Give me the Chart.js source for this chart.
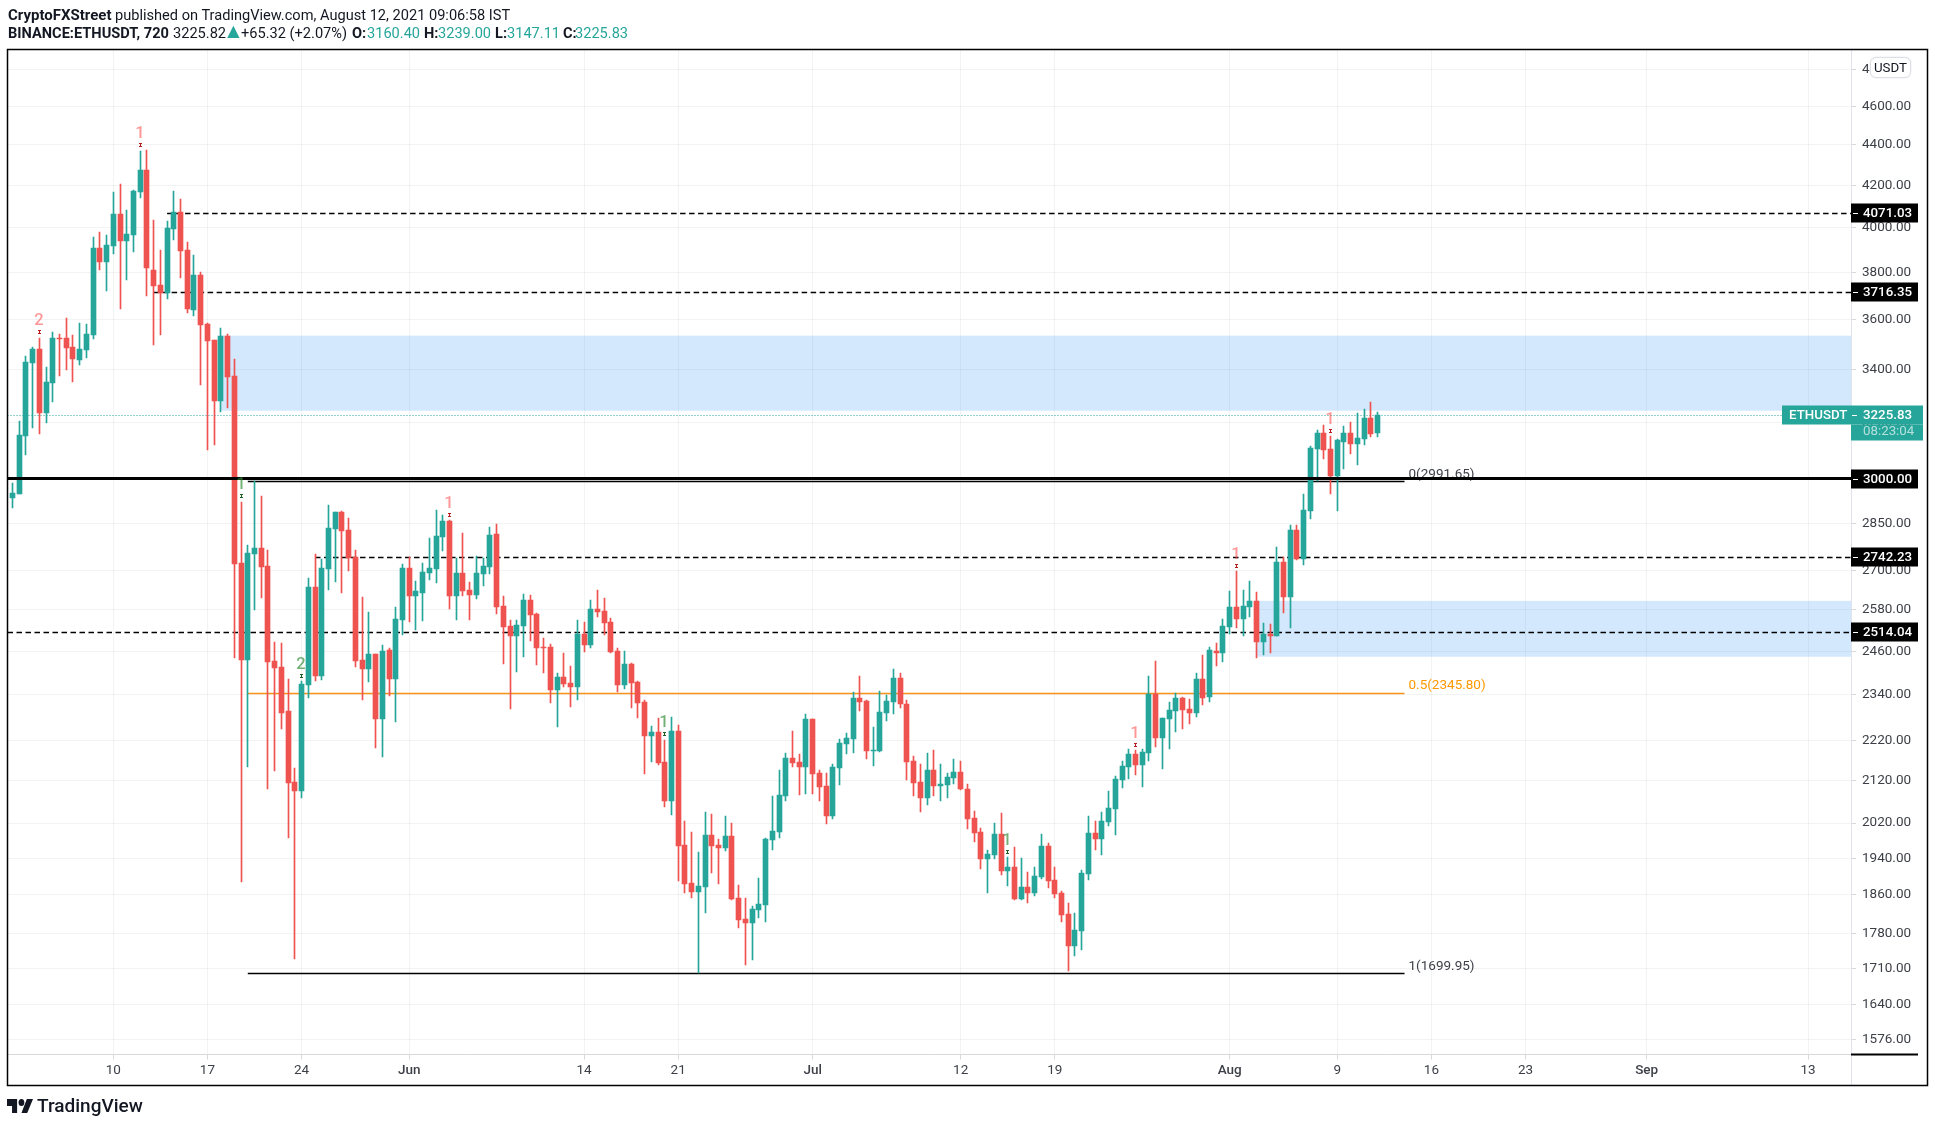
<!DOCTYPE html>
<html><head><meta charset="utf-8"><title>ETHUSDT</title>
<script src="https://cdn.jsdelivr.net/npm/chart.js@4"></script>
<style>
html,body{margin:0;padding:0;background:#fff;overflow:hidden}
#wrap{position:relative;width:1935px;height:1127px;font-family:Roboto,Arial,sans-serif;color:#131722}
canvas{position:absolute;left:0;top:0}
.t{position:absolute;white-space:nowrap;font-size:14.6px;line-height:18px}
.b{font-weight:700}.g{color:#26a69a}
#usdt{position:absolute;left:1870px;top:57px;width:39px;height:19px;border:1px solid #dcdfe6;border-radius:6px;background:#fff;text-align:center;font-size:13.3px;line-height:19px;color:#131722;box-shadow:0 0 2px #e4e4e4}
#logo{position:absolute;left:7px;top:1099px}
#lt{position:absolute;left:37px;top:1094px;font-size:19px;line-height:24px;font-weight:500;color:#131722}
</style></head><body><div id="wrap">
<canvas id="c" width="1935" height="1127"></canvas>
<span class="t b" style="left:8px;top:6px;font-size:15px">CryptoFXStreet</span>
<span class="t" style="left:115px;top:6px">published on TradingView.com, August 12, 2021 09:06:58 IST</span>
<span class="t b" style="left:8px;top:24px">BINANCE:ETHUSDT, 720</span>
<span class="t" style="left:173px;top:24px">3225.82</span>
<span class="t g" style="left:223px;top:22px;font-size:21px">▲</span>
<span class="t" style="left:241px;top:24px">+65.32 (+2.07%)</span>
<span class="t b" style="left:352px;top:24px">O:</span><span class="t g" style="left:367px;top:24px">3160.40</span>
<span class="t b" style="left:424px;top:24px">H:</span><span class="t g" style="left:438px;top:24px">3239.00</span>
<span class="t b" style="left:495px;top:24px">L:</span><span class="t g" style="left:507px;top:24px">3147.11</span>
<span class="t b" style="left:563px;top:24px">C:</span><span class="t g" style="left:575px;top:24px">3225.83</span>
<div id="usdt">USDT</div>
<svg id="logo" width="26" height="14" viewBox="0 6 36 16" preserveAspectRatio="none"><path fill="#131722" d="M14 6H0v8h7v8h7V6Zm14 16h-8l7.5-16H36l-8 16z"/><circle fill="#131722" cx="20" cy="10" r="4"/></svg>
<div id="lt">TradingView</div>
</div>
<script>
// G = close above open, R = close below open
const direction =
 "GGGGRGGRRR"+"GGGRGGRGGG"+"RRRGGRRGRR"+"RGRRRGGRRR"+"RRRGGRGGGR"+"RRRGRGRGGR"+"GGGGGRGRRG"+"GGRRRGGRRR"+"RGRRGRGRRR"+"RGRRRGRRGR"+
 "RRGGRRGRRR"+"GGGGGGRRGR"+"RRGGGGRRGG"+"GGRRRRGRGG"+"GRRRRGGRGR"+"GRGGRRRRGG"+"GRGGGGGRGG"+"RGGGRRGRGR"+"GGRGGRGRGR"+"GRGGGRRGGR"+"GGRG";
const high = [
2984,3206,3453,3490,3527,3411,3551,3543,3609,3539,3588,3584,3960,3983,3970,4171,4209,4085,4180,4372,4377,4039,3902,4034,4175,
4137,3938,3879,3804,3588,3519,3567,3543,3443,2921,2780,2992,2941,2764,2487,2484,2384,2152,2378,2677,2752,2736,2911,2888,2891,
2868,2764,2619,2574,2453,2479,2470,2589,2720,2742,2668,2723,2803,2894,2878,2861,2739,2819,2665,2745,2739,2838,2848,2622,2551,
2551,2628,2625,2571,2499,2481,2400,2456,2420,2551,2545,2610,2640,2616,2557,2470,2462,2428,2378,2327,2258,2279,2222,2282,2261,
2025,2000,1954,2046,2041,1984,2037,2020,1881,1854,1837,1897,1986,2084,2147,2189,2245,2187,2290,2277,2147,2140,2162,2225,2240,
2348,2392,2327,2256,2351,2340,2411,2400,2327,2182,2162,2189,2197,2162,2140,2174,2169,2113,2048,2009,1959,2020,2044,1943,1965,
1941,1910,1921,1995,1974,1921,1869,1843,1822,1914,2037,2025,2046,2096,2132,2169,2200,2197,2200,2392,2434,2279,2322,2346,2335,
2330,2400,2450,2473,2484,2554,2637,2699,2640,2668,2634,2542,2539,2774,2742,2845,2845,2948,3115,3173,3191,3151,3140,3188,3202,
3236,3250,3277,3239];
const bodyTop = [
2951,3155,3431,3482,3482,3353,3527,3527,3527,3490,3482,3543,3911,3911,3924,4066,4066,3974,4175,4277,4277,3813,3748,4002,4076,
4076,3902,3791,3791,3584,3519,3535,3535,3376,2723,2755,2771,2771,2714,2434,2417,2298,2118,2370,2649,2649,2708,2835,2888,2888,
2829,2742,2436,2453,2453,2462,2464,2554,2708,2708,2637,2695,2708,2809,2858,2858,2692,2692,2640,2692,2714,2812,2816,2592,2533,
2536,2610,2610,2568,2473,2473,2389,2389,2373,2510,2510,2583,2583,2577,2545,2462,2425,2425,2376,2322,2243,2243,2167,2245,2245,
1970,1886,1879,1993,1993,1970,1990,1990,1854,1809,1830,1841,1984,2002,2086,2177,2177,2167,2277,2277,2140,2108,2155,2215,2228,
2332,2332,2324,2197,2295,2324,2386,2386,2316,2169,2118,2147,2147,2113,2130,2142,2142,2101,2032,2000,1950,1995,1995,1921,1921,
1877,1877,1901,1968,1968,1892,1864,1820,1787,1908,1997,1997,2025,2055,2125,2157,2187,2187,2192,2343,2343,2279,2300,2332,2332,
2303,2384,2384,2464,2462,2533,2589,2589,2592,2607,2607,2510,2510,2727,2727,2829,2829,2894,3108,3162,3162,3104,3137,3162,3162,
3144,3217,3217,3225.83];
const bodyBottom = [
2935,2948,3151,3427,3236,3236,3349,3523,3486,3443,3439,3478,3539,3848,3848,3920,3942,3942,3970,4171,3822,3744,3714,3714,3997,
3897,3646,3642,3580,3514,3280,3280,3372,2720,2436,2436,2752,2711,2431,2414,2292,2115,2096,2096,2367,2392,2392,2705,2832,2825,
2739,2434,2411,2411,2277,2277,2384,2384,2551,2622,2622,2631,2692,2705,2806,2622,2622,2637,2625,2625,2689,2711,2589,2530,2504,
2504,2533,2566,2470,2470,2354,2354,2370,2362,2362,2479,2479,2574,2542,2459,2367,2367,2373,2319,2233,2233,2164,2072,2072,1968,
1884,1866,1866,1877,1968,1963,1963,1851,1807,1801,1801,1828,1839,1981,2000,2084,2164,2155,2155,2137,2106,2037,2037,2152,2212,
2225,2322,2195,2195,2195,2292,2322,2316,2167,2115,2079,2079,2108,2108,2110,2127,2101,2030,1997,1938,1938,1947,1912,1912,1851,
1851,1864,1864,1899,1890,1862,1818,1754,1754,1785,1905,1984,1984,2023,2053,2123,2155,2159,2159,2189,2228,2228,2277,2298,2300,
2292,2292,2332,2335,2456,2456,2530,2554,2554,2589,2487,2487,2504,2504,2619,2619,2736,2736,2891,3104,3101,3010,3010,3130,3122,
3122,3140,3158,3160.40];
const low = [
2901,2948,3083,3180,3158,3199,3277,3376,3399,3353,3419,3447,3523,3813,3722,3884,3646,3770,3893,4142,3701,3498,3539,3688,3947,
3778,3629,3617,3341,3101,3119,3239,3254,2442,1888,2155,2580,2616,2101,2145,2251,1986,1728,2079,2332,2378,2381,2640,2665,2631,
2699,2417,2327,2376,2202,2179,2338,2269,2507,2545,2522,2548,2671,2662,2761,2583,2551,2622,2551,2613,2652,2689,2568,2425,2303,
2403,2445,2490,2422,2400,2319,2256,2362,2308,2327,2459,2470,2560,2507,2456,2348,2356,2306,2279,2137,2167,2159,2058,2039,1890,
1864,1854,1701,1822,1908,1884,1956,1849,1791,1716,1726,1811,1803,1959,1986,2072,2155,2086,2089,2089,2072,2018,2030,2110,2187,
2189,2298,2174,2157,2192,2271,2290,2306,2123,2084,2046,2063,2084,2072,2079,2113,2098,2006,1977,1916,1864,1938,1903,1879,1849,
1849,1843,1858,1894,1875,1854,1803,1704,1734,1746,1892,1959,1947,2013,1993,2103,2125,2135,2106,2169,2205,2150,2200,2243,2251,
2264,2282,2314,2322,2420,2431,2510,2528,2504,2560,2442,2450,2456,2504,2571,2528,2733,2717,2865,2992,3069,2948,2891,3034,3087,
3048,3119,3148,3147.11];

const priceTicks = [4800,4600,4400,4200,4000,3800,3600,3400,3200,3000,2850,2700,2580,2460,2340,2220,2120,2020,1940,1860,1780,1710,1640,1576];
const timeTickIndex = [15,29,43,59,85,99,119,141,155,181,197,211,225,243,267];
const timeTickLabels = ["10","17","24","Jun","14","21","Jul","12","19","Aug","9","16","23","Sep","13"];
const monthLabels = ["Jun","Jul","Aug","Sep"];

const dashedLevels = [4071.03,3716.35,2742.23,2514.04];
const dashedStartIndex = [23,21,45,-0.73];
const boldLevel = 3000;
const fibLevels = [2991.65,2345.80,1699.95];
const fibLabels = ["0(2991.65)","0.5(2345.80)","1(1699.95)"];
const fibColors = ["#000","#f7931a","#000"];
const fibTextColors = ["#3c3f47","#ff9800","#3c3f47"];
const fibStartIndex = 35, fibEndIndex = 207;
const lastPrice = 3225.83;

const zoneTop = [3535,2607], zoneBottom = [3243,2445], zoneStartIndex = [31,185];

const seqIndex = [4,19,34,43,65,97,148,167,182,196];
const seqPrice = [3548,4398,2941,2392,2878,2238,1954,2210,2714,3169];
const seqText  = ["2","1","1","2","1","1","1","1","1","1"];
const seqSide  = ["R","R","G","G","R","G","G","R","R","R"];

const priceBadges = [4071.03,3716.35,3000,2742.23,2514.04];

const RED="#ef5350", GREEN="#26a69a";
const idx = high.map((_,i)=>i);
const colors = idx.map(i=>direction[i]==="G"?GREEN:RED);
const open  = idx.map(i=>direction[i]==="G"?bodyBottom[i]:bodyTop[i]);
const close = idx.map(i=>direction[i]==="G"?bodyTop[i]:bodyBottom[i]);
const X_MIN=-0.7286, X_MAX=273.39, Y_MIN=1548.7, Y_MAX=4909.6;
const seg=(p,a,b)=>[{x:a,y:p},{x:b,y:p}];
const lineDs=(data,color,width,dash,order)=>({type:"line",data,borderColor:color,borderWidth:width,borderDash:dash,pointRadius:0,fill:false,tension:0,order,clip:true,borderCapStyle:"butt"});
const FONT="Roboto, Arial, sans-serif";

const snap={id:"snap",afterDatasetsUpdate(chart){
  chart.data.datasets.forEach((d,k)=>{
    const pts=chart.getDatasetMeta(k).data;
    if(d.type==="bar"){
      pts.forEach(el=>{
        el.x=Math.floor(el.x)+0.5;
        el.y=Math.round(el.y); el.base=Math.round(el.base);
        if(el.base===el.y) el.base=el.y+1;
      });
    } else {
      pts.forEach(el=>{ el.y=(d.borderWidth>=3?Math.floor(el.y):Math.round(el.y))+0.5; });
    }
  });
}};
const under={id:"under",beforeDatasetsDraw(chart){
  const {ctx,chartArea:a,scales:{x,y}}=chart;
  ctx.save();ctx.fillStyle="rgba(37,142,245,0.2)";
  zoneTop.forEach((t,k)=>{
    const l=x.getPixelForValue(zoneStartIndex[k]),tp=y.getPixelForValue(t),bt=y.getPixelForValue(zoneBottom[k]);
    ctx.fillRect(l,tp,a.right-l,bt-tp);
  });
  ctx.font="13.5px "+FONT;ctx.textBaseline="bottom";ctx.textAlign="left";
  const lx=x.getPixelForValue(fibEndIndex)+4;
  fibLevels.forEach((p,k)=>{ctx.fillStyle=fibTextColors[k];ctx.fillText(fibLabels[k],lx,y.getPixelForValue(p));});
  ctx.restore();
}};
const over={id:"over",afterDraw(chart){
  const {ctx,chartArea:a,scales:{x,y}}=chart;
  ctx.save();
  // sequential markers
  seqIndex.forEach((i,k)=>{
    const px=Math.floor(x.getPixelForValue(i)), py=Math.round(y.getPixelForValue(seqPrice[k]));
    const red=seqSide[k]==="R";
    ctx.textAlign="center";ctx.textBaseline="middle";ctx.font="500 16.5px "+FONT;
    ctx.fillStyle=red?"rgba(255,82,82,0.6)":"rgba(56,142,60,0.7)";
    ctx.fillText(seqText[k],px,py-11);
    ctx.fillStyle=red?"#b71c1c":"#1b5e20";
    ctx.fillRect(px-1,py-2,3,1);ctx.fillRect(px-1,py+1,3,1);ctx.fillRect(px,py-2,1,4);
  });
  // axis separators
  ctx.strokeStyle="#e0e3eb";ctx.lineWidth=1;
  ctx.beginPath();ctx.moveTo(a.right+.5,a.top);ctx.lineTo(a.right+.5,1085);ctx.stroke();
  // badges
  ctx.textAlign="left";ctx.textBaseline="middle";
  const badgeL=Math.round(a.right);
  const badge=(p)=>{
    const py=Math.round(y.getPixelForValue(p));
    ctx.fillStyle="#000";ctx.fillRect(badgeL,py-9.5,67,19);
    ctx.fillStyle="#fff";ctx.fillRect(badgeL+2,py,5,1);
    ctx.font="500 13.3px "+FONT;ctx.fillText(p.toFixed(2),1863,py+.5);
  };
  priceBadges.forEach(badge);
  // last price
  const ly=Math.round(y.getPixelForValue(lastPrice));
  ctx.fillStyle=GREEN;ctx.fillRect(1782,ly-9.5,141,19);ctx.fillRect(badgeL,ly+9.5,72,16);
  ctx.fillStyle="#fff";ctx.font="500 13.3px "+FONT;ctx.fillText("ETHUSDT",1789,ly+.5);
  ctx.fillRect(badgeL+1,ly,5,1);ctx.fillText(lastPrice.toFixed(2),1863,ly+.5);
  ctx.fillStyle="rgba(255,255,255,0.65)";ctx.font="13.3px "+FONT;ctx.fillText("08:23:04",1863,ly+17);
  ctx.fillStyle="#000";ctx.fillRect(badgeL,a.bottom-1,67,2);
  // frame
  ctx.strokeStyle="#000";ctx.lineWidth=1.5;ctx.strokeRect(7.5,49.5,1920,1036);
  ctx.restore();
}};

new Chart(document.getElementById("c"),{
  type:"bar",
  plugins:[snap,under,over],
  data:{datasets:[
    lineDs(seg(lastPrice,X_MIN,X_MAX),GREEN,1,[1,2],6),
    ...dashedLevels.map((p,k)=>lineDs(seg(p,dashedStartIndex[k],X_MAX),"#000",1.4,[5.5,3.5],5)),
    ...fibLevels.map((p,k)=>lineDs(seg(p,fibStartIndex,fibEndIndex),fibColors[k],1.4,[],5)),
    {type:"bar",data:idx.map(i=>({x:i,y:[low[i],high[i]]})),backgroundColor:colors,barThickness:1,grouped:false,order:3},
    {type:"bar",data:idx.map(i=>({x:i,y:[open[i],close[i]]})),backgroundColor:colors,barThickness:5,grouped:false,order:2},
    lineDs(seg(boldLevel,X_MIN,X_MAX),"#000",3,[],1)
  ]},
  options:{
    responsive:false,animation:false,devicePixelRatio:1,
    events:[],
    layout:{padding:{left:7.5,top:49.5,right:7.5,bottom:41.5}},
    plugins:{legend:{display:false},tooltip:{enabled:false},title:{display:false}},
    scales:{
      x:{type:"linear",bounds:"data",min:X_MIN,max:X_MAX,offset:false,
        afterBuildTicks(s){s.ticks=timeTickIndex.map(v=>({value:v}));},
        afterFit(s){s.height=31;},
        grid:{offset:false,color:"rgba(42,46,57,0.06)",lineWidth:1,drawTicks:true,tickLength:5,tickColor:"#d8d8d8"},
        border:{display:true,color:"#d8d8d8"},
        ticks:{autoSkip:false,maxRotation:0,minRotation:0,padding:3,color:"#3c3f47",
          font:c=>({family:FONT,size:13.5,weight:c.tick&&monthLabels.includes(timeTickLabels[timeTickIndex.indexOf(c.tick.value)])?"500":"400"}),
          callback:v=>timeTickLabels[timeTickIndex.indexOf(v)]||""}
      },
      y:{type:"logarithmic",position:"right",bounds:"data",min:Y_MIN,max:Y_MAX,
        afterBuildTicks(s){s.ticks=priceTicks.map(v=>({value:v}));},
        afterFit(s){s.width=76.5;},
        grid:{color:"rgba(42,46,57,0.06)",lineWidth:1,drawTicks:true,tickLength:5,tickColor:"#d8d8d8"},
        border:{display:false},
        ticks:{autoSkip:false,padding:6,color:"#3c3f47",font:{family:FONT,size:13.5},callback:v=>Number(v).toFixed(2)}
      }
    }
  }
});
</script></body></html>
